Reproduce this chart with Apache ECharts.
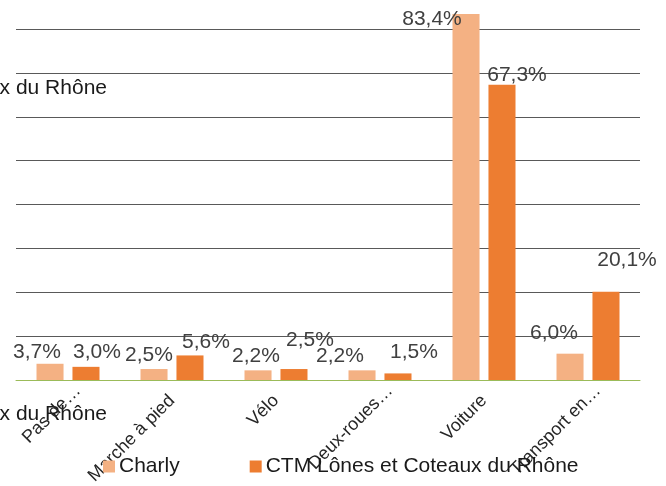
<!DOCTYPE html>
<html>
<head>
<meta charset="utf-8">
<script src="https://cdn.jsdelivr.net/npm/echarts@6/dist/echarts.min.js"></script>
<style>
  html, body { margin: 0; padding: 0; background: #fff; }
  #chart { width: 666px; height: 486px; }
</style>
</head>
<body>
<div id="chart"></div>
<script>
const categories = ['Pas de…', 'Marche à pied', 'Vélo', 'Deux-roues…', 'Voiture', 'Transport en…']
const charlyValues = [3.7, 2.5, 2.2, 2.2, 83.4, 6.0]
const ctmValues = [3.0, 5.6, 2.5, 1.5, 67.3, 20.1]
const seriesNames = ['Charly', 'CTM Lônes et Coteaux du Rhône']

// label nudges so they sit like the original (dx, dy in px)
const charlyLabelOffset = [[-13, 0], [-5, -2], [-2, -3], [-22, -3], [-34, 17], [-16, -9]]
const ctmLabelOffset = [[11, -3], [16, -2], [16, -17], [16, -10], [15, 2], [21, -20]]

const font = "'Liberation Sans', Arial, sans-serif"
const fmt = p => p.value.toFixed(1).replace('.', ',') + '%'

const withOffsets = (values, offsets) =>
  values.map((v, i) => ({ value: v, label: { offset: offsets[i] } }))

// truncated (…) labels sit a bit further along in the original
const categoryData = categories.map(c =>
  c.endsWith('…') ? { value: c, textStyle: { padding: [0, -14, 0, 0] } } : c)

const chart = echarts.init(document.getElementById('chart'))

chart.setOption({
  animation: false,
  textStyle: { fontFamily: font },
  grid: { left: 16, right: 26, top: 29, bottom: 106, outerBoundsMode: 'none', containLabel: false },
  legend: {
    top: 456,
    left: 103,
    padding: 0,
    itemWidth: 12,
    itemHeight: 12,
    itemGap: 70,
    icon: 'rect',
    textStyle: { fontSize: 21, color: '#1a1a1a', fontFamily: font, padding: [0, 0, 0, -1] }
  },
  // leftover clipped title text seen at the left edge
  graphic: [
    { type: 'text', right: 559, top: 78, style: { text: seriesNames[1], font: '21px ' + font, fill: '#1a1a1a' } },
    { type: 'text', right: 559, top: 404, style: { text: seriesNames[1], font: '21px ' + font, fill: '#1a1a1a' } }
  ],
  xAxis: {
    type: 'category',
    data: categoryData,
    z: 3,
    axisLine: { lineStyle: { color: '#9BBB59', width: 1 } },
    axisTick: { show: false },
    axisLabel: { rotate: 45, margin: 18, fontSize: 18, color: '#262626', fontFamily: font, interval: 0 }
  },
  yAxis: {
    type: 'value',
    min: 0,
    max: 80,
    interval: 10,
    axisLabel: { show: false },
    axisLine: { show: false },
    splitLine: { lineStyle: { color: '#595959', width: 1 } }
  },
  series: [
    {
      name: seriesNames[0],
      type: 'bar',
      data: withOffsets(charlyValues, charlyLabelOffset),
      clip: false,
      barWidth: '26%',
      barGap: '33%',
      itemStyle: { color: '#F4B183' },
      label: { show: true, position: 'top', distance: 1, formatter: fmt, fontSize: 21, color: '#404040', fontFamily: font }
    },
    {
      name: seriesNames[1],
      type: 'bar',
      data: withOffsets(ctmValues, ctmLabelOffset),
      clip: false,
      barWidth: '26%',
      itemStyle: { color: '#ED7D31' },
      label: { show: true, position: 'top', distance: 1, formatter: fmt, fontSize: 21, color: '#404040', fontFamily: font }
    }
  ]
})
</script>
</body>
</html>
